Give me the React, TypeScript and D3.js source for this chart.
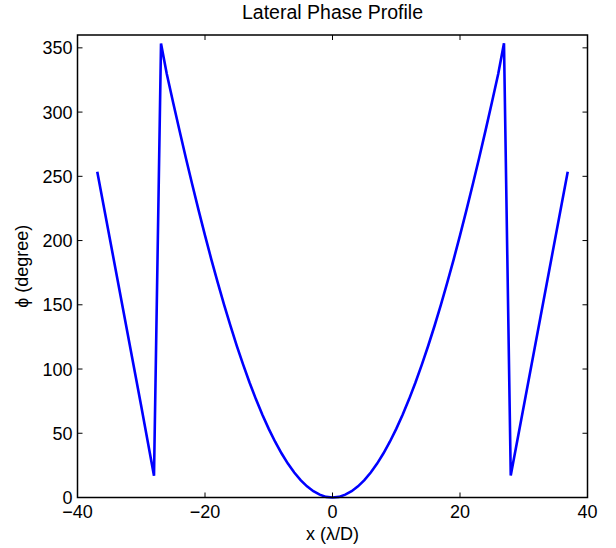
import React from "react";
import * as d3 from "d3";

const title = "Lateral Phase Profile";
const xLabel = "x (λ/D)";
const yLabel = "ϕ (degree)";
const xTicks = [-40, -20, 0, 20, 40];
const yTicks = [0, 50, 100, 150, 200, 250, 300, 350];

const xs = [
  -36.9, -34, -32, -30, -28.0, -26.9,
  -26, -25, -24, -23, -22, -21, -20, -19, -18, -17, -16, -15, -14, -13, -12, -11, -10,
  -9, -8, -7, -6, -5, -4, -3, -2, -1, 0, 1, 2, 3, 4, 5, 6, 7, 8, 9,
  10, 11, 12, 13, 14, 15, 16, 17, 18, 19, 20, 21, 22, 23, 24, 25, 26,
  26.9, 27.96, 30, 32, 34, 36, 36.9,
];
const phi = [
  253.5, 176.9, 124.0, 71.1, 16.9, 353.3,
  329.8, 307.5, 285.6, 264.3, 243.6, 223.5, 204.0, 185.2, 167.2, 150.0, 133.5, 117.9, 103.2, 89.3, 76.4, 64.4, 53.4,
  43.4, 34.4, 26.4, 19.4, 13.5, 8.7, 4.9, 2.2, 0.5, 0, 0.5, 2.2, 4.9, 8.7, 13.5, 19.4, 26.4, 34.4, 43.4,
  53.4, 64.4, 76.4, 89.3, 103.2, 117.9, 133.5, 150.0, 167.2, 185.2, 204.0, 223.5, 243.6, 264.3, 285.6, 307.5, 329.8,
  353.5, 17.1, 71.1, 124.0, 176.9, 229.8, 253.5,
];

const W = 616;
const H = 548;
const L = 77.5, R = 587.5, T = 35, B = 497.5;

export default function App() {
  const x = d3.scaleLinear().domain([-40, 40]).range([L, R]);
  const y = d3.scaleLinear().domain([0, 360]).range([B, T]);
  const pts: [number, number][] = xs.map((v, i) => [v, phi[i]]);
  const line = d3
    .line<[number, number]>()
    .x((d) => x(d[0]))
    .y((d) => y(d[1]));
  const font = "'Liberation Sans', Arial, Helvetica, sans-serif";
  const tl = 5;
  const fs = 18;
  const fmt = (v: number) => (v < 0 ? "\u2212" + Math.abs(v) : String(v));
  return (
    <svg
      width={W}
      height={H}
      style={{ position: "absolute", left: 0, top: 0, background: "#fff" }}
      fontFamily={font}
    >
      <rect x={0} y={0} width={W} height={H} fill="#fff" />
      <path d={line(pts) || ""} fill="none" stroke="#0000ff" strokeWidth={2.6} strokeLinejoin="miter" />
      <rect x={L} y={T} width={R - L} height={B - T} fill="none" stroke="#000" strokeWidth={1.5} />
      {xTicks.map((t) => (
        <g key={"x" + t}>
          <line x1={x(t)} x2={x(t)} y1={B} y2={B - tl} stroke="#000" strokeWidth={1} />
          <line x1={x(t)} x2={x(t)} y1={T} y2={T + tl} stroke="#000" strokeWidth={1} />
          <text x={x(t)} y={B + 20} textAnchor="middle" fontSize={fs} fill="#000">
            {fmt(t)}
          </text>
        </g>
      ))}
      {yTicks.map((t) => (
        <g key={"y" + t}>
          <line x1={L} x2={L + tl} y1={y(t)} y2={y(t)} stroke="#000" strokeWidth={1} />
          <line x1={R} x2={R - tl} y1={y(t)} y2={y(t)} stroke="#000" strokeWidth={1} />
          <text x={L - 5} y={y(t) + 6.5} textAnchor="end" fontSize={fs} fill="#000">
            {fmt(t)}
          </text>
        </g>
      ))}
      <text x={(L + R) / 2} y={19} textAnchor="middle" fontSize={19.5} fill="#000">
        {title}
      </text>
      <text x={(L + R) / 2} y={540} textAnchor="middle" fontSize={fs} fill="#000">
        {xLabel}
      </text>
      <text
        transform={`translate(28, ${(T + B) / 2}) rotate(-90)`}
        textAnchor="middle"
        fontSize={fs}
        fill="#000"
      >
        {yLabel}
      </text>
    </svg>
  );
}
